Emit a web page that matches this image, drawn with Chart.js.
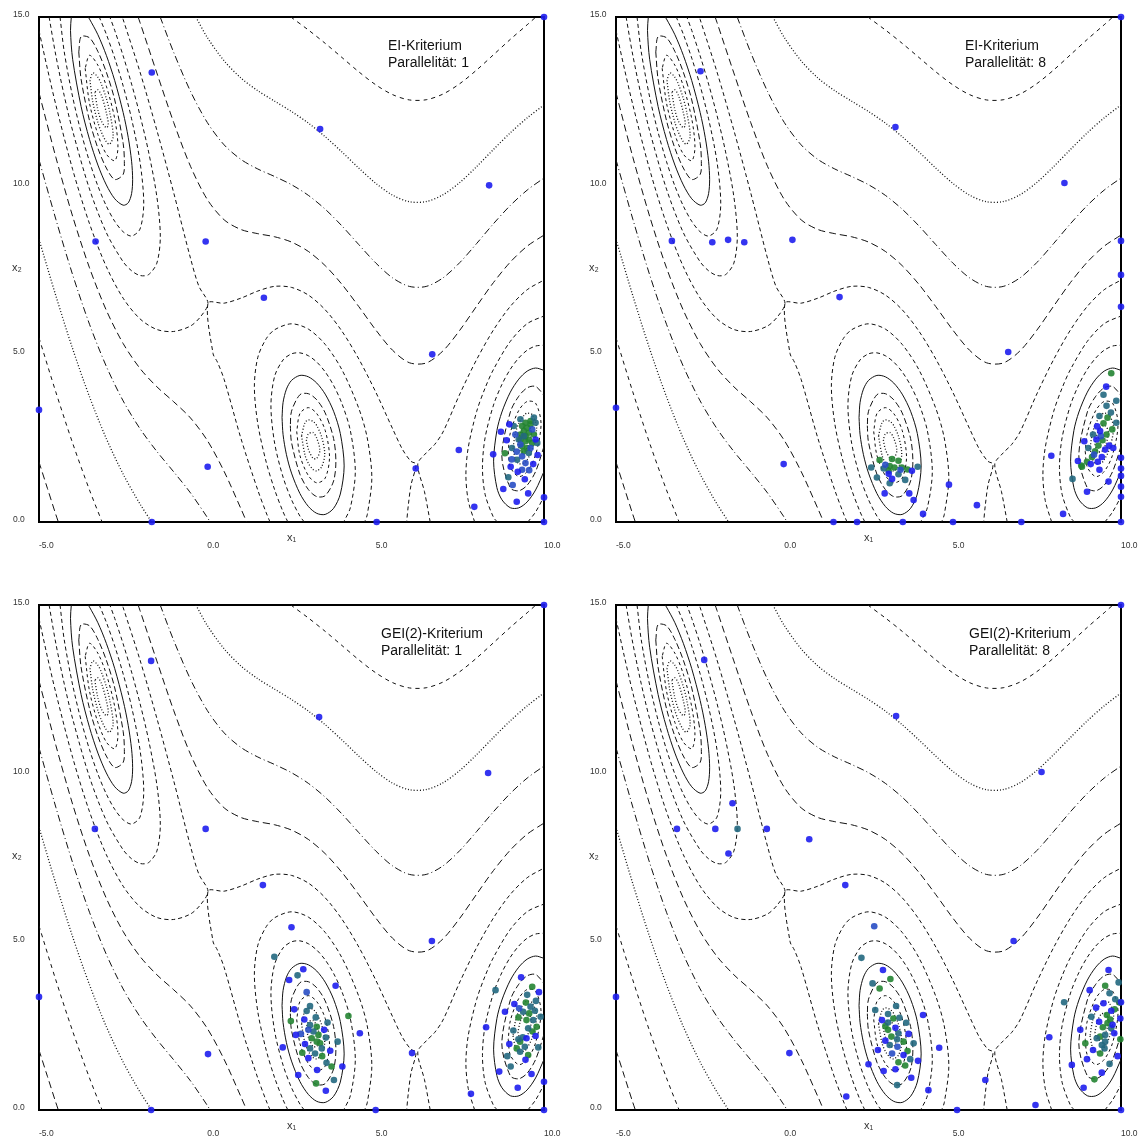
<!DOCTYPE html>
<html>
<head>
<meta charset="utf-8">
<script src="https://cdn.jsdelivr.net/npm/chart.js@4.4.0/dist/chart.umd.min.js"></script>
<style>
html,body{margin:0;padding:0;background:#fff;overflow:hidden;}
.panel{position:absolute;width:569px;height:549px;}
</style>
</head>
<body>
<div class="panel" style="left:0;top:0"><canvas id="p1" width="569" height="549"></canvas></div>
<div class="panel" style="left:577px;top:0"><canvas id="p2" width="569" height="549"></canvas></div>
<div class="panel" style="left:0;top:588px"><canvas id="p3" width="569" height="549"></canvas></div>
<div class="panel" style="left:577px;top:588px"><canvas id="p4" width="569" height="549"></canvas></div>
<script>
/* ---------- axes ---------- */
const xTicks = [-5, 0, 5, 10];
const yTicks = [0, 5, 10, 15];

/* ---------- contour lines (levels of the test function) ---------- */
const levels = [0.544, 0.907, 1.51, 2.52, 4.2, 7.0, 11.66, 19.44, 32.4, 54, 90, 150, 250];

const lv0 = [
  [[-3.343,12.763],[-3.25,12.237],[-3.14,11.893],[-3.0,11.713],[-2.941,11.797],[-3.0,12.161],[-3.14,12.657],[-3.25,12.837],[-3.343,12.763]],
  [[2.941,2.437],[3.0,2.164],[3.14,1.893],[3.25,1.892],[3.343,2.123],[3.25,2.492],[3.14,2.657],[3.0,2.612],[2.941,2.437]],
  [[9.224,2.31],[9.3,2.106],[9.42,2.088],[9.55,2.317],[9.626,2.65],[9.55,2.847],[9.42,2.852],[9.3,2.638],[9.224,2.31]]
];
const lv1 = [
  [[-3.487,13.119],[-3.4,12.468],[-3.25,11.864],[-3.14,11.562],[-3.0,11.294],[-2.9,11.221],[-2.797,11.461],[-2.9,12.181],[-3.0,12.58],[-3.14,12.988],[-3.25,13.21],[-3.4,13.34],[-3.487,13.119]],
  [[2.797,2.559],[2.9,1.991],[3.0,1.745],[3.14,1.562],[3.25,1.519],[3.4,1.646],[3.487,2.021],[3.4,2.518],[3.25,2.865],[3.14,2.988],[3.0,3.031],[2.9,2.951],[2.797,2.559]],
  [[9.08,2.199],[9.15,1.874],[9.25,1.732],[9.42,1.757],[9.5,1.846],[9.65,2.155],[9.78,2.79],[9.65,3.187],[9.5,3.232],[9.42,3.183],[9.25,2.93],[9.15,2.63],[9.08,2.199]]
];
const lv2 = [
  [[-3.629,13.476],[-3.5,12.443],[-3.25,11.509],[-3.0,10.928],[-2.75,10.732],[-2.655,11.135],[-2.75,11.976],[-3.0,12.946],[-3.25,13.565],[-3.5,13.863],[-3.629,13.476]],
  [[2.655,2.685],[2.75,1.978],[3.0,1.379],[3.25,1.164],[3.5,1.302],[3.629,1.926],[3.5,2.722],[3.25,3.22],[3.0,3.397],[2.75,3.222],[2.655,2.685]],
  [[8.938,2.094],[9.0,1.629],[9.25,1.349],[9.5,1.498],[9.75,1.994],[9.912,2.916],[9.75,3.53],[9.5,3.58],[9.25,3.313],[9.0,2.651],[8.938,2.094]]
];
const lv3 = [
  [[-3.818,13.96],[-3.75,13.154],[-3.5,11.924],[-3.25,11.1],[-3.0,10.514],[-2.75,10.173],[-2.5,10.325],[-2.465,10.708],[-2.5,11.247],[-2.75,12.535],[-3.0,13.36],[-3.25,13.974],[-3.5,14.382],[-3.75,14.416],[-3.818,13.96]],
  [[2.465,2.862],[2.5,2.368],[2.75,1.419],[3.0,0.965],[3.25,0.755],[3.5,0.783],[3.75,1.217],[3.818,1.806],[3.75,2.479],[3.5,3.241],[3.25,3.629],[3.0,3.811],[2.75,3.781],[2.5,3.29],[2.465,2.862]],
  [[10,2.244],[9.75,1.498],[9.5,1.093],[9.25,0.927],[9.0,1.014],[8.748,1.963],[9.0,3.266],[9.25,3.735],[9.5,3.985],[9.75,4.026],[10,3.762]]
];
const lv4 = [
  [[-4.04,15],[-4.064,14.601],[-4.0,13.743],[-3.75,12.343],[-3.5,11.366],[-3.25,10.602],[-3.0,10.012],[-2.75,9.6],[-2.5,9.41],[-2.35,9.479],[-2.25,9.753],[-2.219,10.168],[-2.25,10.717],[-2.35,11.427],[-2.5,12.162],[-2.75,13.108],[-3.0,13.862],[-3.25,14.472],[-3.5,14.94],[-3.54,15]],
  [[2.219,3.104],[2.25,2.591],[2.35,1.999],[2.5,1.453],[2.75,0.846],[3.0,0.463],[3.25,0.257],[3.5,0.225],[3.75,0.406],[3.95,0.831],[4.064,1.666],[3.95,2.627],[3.75,3.29],[3.5,3.799],[3.25,4.127],[3.0,4.313],[2.75,4.354],[2.5,4.205],[2.35,3.947],[2.25,3.555],[2.219,3.104]],
  [[10,1.501],[9.75,0.951],[9.5,0.597],[9.25,0.42],[9.0,0.423],[8.75,0.661],[8.6,1.022],[8.503,1.807],[8.6,2.712],[8.75,3.267],[9.0,3.857],[9.25,4.242],[9.5,4.481],[9.75,4.573],[10,4.505]]
];
const lv5 = [
  [[-4.375,15],[-4.25,13.962],[-4.0,12.623],[-3.75,11.576],[-3.5,10.705],[-3.25,9.978],[-3.0,9.386],[-2.75,8.93],[-2.5,8.62],[-2.25,8.494],[-2.0,8.702],[-1.889,9.467],[-2.0,10.698],[-2.25,11.976],[-2.5,12.952],[-2.75,13.778],[-3.0,14.488],[-3.21,15]],
  [[2.88,0],[2.75,0.176],[2.5,0.663],[2.25,1.332],[2.0,2.336],[1.889,3.455],[2.0,4.332],[2.25,4.814],[2.5,4.995],[2.75,5.024],[3.0,4.939],[3.25,4.751],[3.5,4.46],[3.75,4.057],[4.0,3.511],[4.25,2.704],[4.395,1.501],[4.25,0.434],[4.05,0]],
  [[8.617,0],[8.5,0.137],[8.25,0.824],[8.172,1.621],[8.25,2.5],[8.5,3.473],[8.75,4.085],[9.0,4.538],[9.25,4.871],[9.5,5.103],[9.75,5.227],[10,5.252]],
  [[9.52,0],[9.75,0.297],[10,0.754]]
];
const lv6 = [
  [[-4.7,15],[-4.5,13.859],[-4.25,12.658],[-4.0,11.616],[-3.5,9.889],[-3.0,8.595],[-2.5,7.728],[-2.25,7.462],[-2.0,7.322],[-1.75,7.345],[-1.5,7.688],[-1.397,8.476],[-1.5,9.668],[-1.75,11.017],[-2.0,12.078],[-2.25,13.008],[-2.5,13.844],[-2.75,14.6],[-2.895,15]],
  [[2.392,0],[2.25,0.3],[2.0,0.956],[1.75,1.774],[1.5,2.913],[1.397,4.029],[1.5,4.893],[1.75,5.446],[2.0,5.712],[2.5,5.887],[3.0,5.73],[3.5,5.276],[4.0,4.518],[4.5,3.373],[4.75,2.495],[4.886,1.308],[4.75,0.215],[4.671,0]],
  [[7.94,0],[7.75,0.635],[7.68,1.396],[7.75,2.213],[8.0,3.283],[8.25,3.978],[8.5,4.533],[9.0,5.366],[9.5,5.891],[10,6.12]]
];
const lv7 = [
  [[-5,14.595],[-4.75,13.462],[-4.5,12.392],[-4.0,10.469],[-3.5,8.86],[-3.0,7.584],[-2.5,6.647],[-2.0,6.034],[-1.5,5.718],[-1.0,5.659],[-0.5,5.822],[-0.2,6.1],[0.02,6.5],[-0.25,7.0],[-0.5,7.834],[-1.0,9.783],[-1.5,11.638],[-2.0,13.366],[-2.5,14.925],[-2.526,15]],
  [[1.862,0],[1.75,0.271],[1.5,0.943],[1.0,2.476],[0.5,4.231],[0.3,4.75],[0.17,5.0],[0.02,6.5],[0.5,6.5],[1.0,6.65],[1.5,6.86],[2.0,7.0],[2.5,6.968],[3.0,6.741],[3.5,6.305],[4.0,5.665],[4.5,4.84],[5.0,3.864],[5.5,2.777],[5.8,2.15],[6.05,1.8],[6.2,1.72],[6.05,1.1],[5.97,0.5],[5.92,0]],
  [[6.62,0],[6.45,0.9],[6.25,1.72],[6.5,2.05],[6.75,2.3],[7.0,2.673],[7.5,3.802],[8.0,4.827],[8.5,5.706],[9.0,6.405],[9.5,6.899],[10,7.186]]
];
const lv8 = [
  [[-5,12.751],[-4.5,10.836],[-4.0,9.078],[-3.5,7.55],[-3.0,6.288],[-2.5,5.3],[-2.0,4.562],[-1.5,4.017],[-1.0,3.572],[-0.5,3.09],[0,2.422],[0.5,1.499],[1.0,0.389],[1.168,0]],
  [[-2.056,15],[-2.0,14.838],[-1.5,13.339],[-1.0,11.87],[-0.5,10.566],[0,9.578],[0.5,8.975],[1.0,8.687],[1.5,8.564],[2.0,8.472],[2.5,8.315],[3.0,8.037],[3.5,7.615],[4.0,7.056],[4.5,6.396],[5.0,5.708],[5.5,5.103],[6.0,4.731],[6.5,4.722],[7.0,5.083],[7.5,5.697],[8.0,6.413],[8.5,7.114],[9.0,7.721],[9.5,8.193],[10,8.522]]
];
const lv9 = [
  [[-5,10.762],[-4.5,8.994],[-4.0,7.342],[-3.5,5.873],[-3.0,4.622],[-2.5,3.596],[-2.0,2.772],[-1.5,2.096],[-1.0,1.491],[-0.5,0.864],[0,0.135],[0.081,0]],
  [[-1.4,15],[-1.0,13.951],[-0.5,12.792],[0,11.865],[0.5,11.201],[1.0,10.768],[1.5,10.485],[2.0,10.262],[2.5,10.019],[3.0,9.703],[3.5,9.292],[4.0,8.792],[4.5,8.238],[5.0,7.697],[5.5,7.253],[6.0,6.998],[6.5,6.997],[7.0,7.252],[7.5,7.707],[8.0,8.273],[8.5,8.861],[9.0,9.403],[9.5,9.858],[10,10.218]]
];
const lv10 = [
  [[-5,8.396],[-4.5,6.721],[-4.0,5.144],[-3.5,3.72],[-3.0,2.476],[-2.5,1.422],[-2.0,0.535],[-1.654,0]],
  [[-0.34,15],[0,14.39],[0.5,13.697],[1.0,13.187],[1.5,12.809],[2.0,12.499],[2.5,12.193],[3.0,11.849],[3.5,11.445],[4.0,10.99],[4.5,10.511],[5.0,10.063],[5.5,9.71],[6.0,9.514],[6.5,9.517],[7.0,9.719],[7.5,10.086],[8.0,10.557],[8.5,11.067],[9.0,11.561],[9.5,12.003],[10,12.387]]
];
const lv11 = [
  [[-5,5.47],[-4.5,3.86],[-4.0,2.34],[-3.5,0.95],[-3.125,0]],
  [[2.48,15],[3.0,14.615],[3.5,14.218],[4.0,13.796],[4.5,13.371],[5.0,12.988],[5.5,12.695],[6.0,12.537],[6.5,12.542],[7.0,12.711],[7.5,13.021],[8.0,13.426],[8.5,13.879],[9.0,14.336],[9.5,14.769],[9.76,15]]
];
const lv12 = [
  [[-5,1.78],[-4.75,1.0],[-4.5,0.22],[-4.425,0]]
];
const contourPieces = [lv0, lv1, lv2, lv3, lv4, lv5, lv6, lv7, lv8, lv9, lv10, lv11, lv12];

/* ---------- evaluated points, per run, grouped from first (blue) to last (green) ---------- */
// EI, Parallelität 1
const ei1Blue = [[-5,3.33],[-1.65,13.35],[-1.65,0],[-3.32,8.33],[-0.05,8.33],[0.01,1.64],[1.68,6.66],[3.35,11.67],[5.03,0],[6.68,4.98],[8.37,10],[10,15],[10,0.73],[10,0],[6.19,1.59],[7.93,0.45],[7.47,2.14],[8.49,2.01],[8.72,2.68],[8.97,2.9],[8.89,2.43],[8.79,0.98],[9.19,0.6],[9.53,0.85],[9.43,1.27],[9.22,1.49],[9.01,1.64],[9.68,1.72],[9.81,1.99],[9.75,2.45]];
const ei1Mid = [[9.04,1.86],[9.07,1.1],[9.56,1.54],[9.3,2.3],[9.6,2.2],[9.45,1.75],[9.15,2.6],[9.65,2.75],[9.35,1.55],[9.19,2.09],[9.35,1.95]];
const ei1Teal = [[8.94,1.33],[9.1,2.85],[9.3,3.05],[9.75,2.95],[9.8,2.35],[9.2,1.85],[9.05,2.2],[9.55,2.05],[9.4,2.55],[9.25,2.45],[9.7,3.1]];
const ei1Green = [[8.84,2.04],[9.35,2.85],[9.45,2.95],[9.6,3.0],[9.3,2.6],[9.45,2.4],[9.55,2.65],[9.7,2.6],[9.4,2.7],[9.5,2.8],[9.35,2.25],[9.5,2.2],[9.65,2.35],[9.4,2.1],[9.55,2.45],[9.6,2.9],[9.3,2.45],[9.45,2.55]];

// EI, Parallelität 8
const ei8Blue = [[-5,3.39],[-2.49,13.39],[-3.34,8.35],[-2.14,8.31],[-1.67,8.38],[-1.19,8.31],[0.24,8.38],[1.64,6.68],[3.3,11.73],[-0.02,1.72],[8.32,10.07],[6.65,5.05],[10,15],[10,8.35],[10,7.34],[10,6.39],[1.46,0],[2.16,0],[3.52,0],[5.01,0],[7.04,0],[10,0],[4.12,0.24],[4.89,1.11],[5.72,0.5],[8.28,0.24],[7.93,1.97],[10,1.91],[10,1.59],[10,1.37],[10,1.05],[10,0.75],[8.99,0.9],[9.63,1.2],[8.72,1.81],[9.56,4.02],[9.29,2.84],[9.38,2.7],[9.27,2.45],[8.91,2.4],[9.65,2.27],[9.77,2.2],[9.53,2.15],[9.43,1.93],[9.31,1.79],[9.1,1.72],[9.36,1.55],[3.79,1.52],[3.2,1.28],[3.1,1.43],[2.98,0.85],[3.71,0.85],[3.84,0.65]];
const ei8Mid = [[9.4,2.55],[9.2,2.0],[3.0,1.7],[3.45,1.55]];
const ei8Teal = [[8.56,1.28],[9.48,3.78],[9.86,3.6],[9.57,3.45],[9.7,3.25],[9.36,3.15],[9.86,2.95],[9.17,2.6],[9.03,2.2],[2.58,1.62],[2.95,1.59],[3.96,1.64],[2.75,1.32],[3.39,1.42],[3.59,1.25],[3.13,1.15]];
const ei8Green = [[9.71,4.42],[8.84,1.64],[8.99,1.79],[9.6,3.1],[9.48,2.93],[9.74,2.75],[9.57,2.6],[9.45,2.43],[9.33,2.27],[9.23,2.1],[9.14,1.93],[8.82,1.68],[2.83,1.84],[3.2,1.87],[3.39,1.82],[3.13,1.66],[3.27,1.62],[3.49,1.62],[3.66,1.56],[3.1,1.52]];

// GEI(2), Parallelität 1
const gei1Blue = [[-5,3.36],[-1.67,13.34],[-1.67,0],[-3.34,8.35],[-0.05,8.35],[0.02,1.66],[1.65,6.68],[3.32,11.67],[5.0,0],[6.08,1.69],[6.67,5.02],[8.34,10.01],[10,15],[10,0],[10,0.84],[7.83,0.48],[2.5,5.43],[2.85,4.18],[2.43,3.86],[3.81,3.69],[2.58,2.99],[2.88,2.69],[4.53,2.28],[3.47,2.38],[2.63,2.23],[2.9,1.96],[2.24,1.86],[3.65,1.76],[3.0,1.54],[4.01,1.29],[3.26,1.19],[2.7,1.04],[3.52,0.57],[9.32,3.94],[9.85,3.5],[9.12,3.15],[8.84,2.92],[8.28,2.46],[9.48,2.13],[9.75,2.2],[8.97,1.96],[9.45,1.49],[8.67,1.14],[9.63,1.07],[9.22,0.66]];
const gei1Mid = [[2.95,3.5],[3.0,2.38],[2.78,2.26],[9.26,3.02]];
const gei1Teal = [[1.99,4.55],[2.68,4.0],[3.05,3.09],[2.95,2.94],[3.22,2.75],[3.57,2.6],[3.05,2.52],[3.15,2.33],[3.52,2.15],[3.87,2.03],[3.05,1.83],[3.4,1.83],[3.2,1.68],[3.54,1.4],[3.76,0.89],[8.56,3.56],[9.5,3.42],[9.76,3.24],[9.6,3.07],[9.38,2.92],[9.73,2.95],[9.9,2.77],[9.68,2.67],[9.09,2.36],[9.53,2.43],[9.37,2.16],[9.24,2.1],[9.43,1.88],[9.83,1.86],[9.29,1.73],[8.91,1.6],[9.01,1.29]];
const gei1Green = [[2.48,2.64],[4.19,2.79],[3.25,2.47],[3.3,2.23],[3.1,2.13],[3.25,2.03],[3.35,1.98],[2.82,1.7],[3.41,1.6],[3.69,1.29],[3.23,0.79],[9.65,3.66],[9.46,3.19],[9.56,2.87],[9.24,2.75],[9.48,2.67],[9.78,2.47],[9.66,2.33],[9.29,2.03],[9.19,1.83],[9.53,1.63]];

// GEI(2), Parallelität 8
const gei8Blue = [[-5,3.36],[-2.38,13.37],[10,15],[3.32,11.7],[7.64,10.04],[6.81,5.02],[0.15,1.69],[5.13,0],[7.46,0.15],[5.97,0.89],[10,0],[-1.54,9.11],[-3.19,8.35],[-2.05,8.35],[-0.52,8.35],[0.74,8.04],[-1.66,7.62],[1.81,6.68],[2.93,4.16],[4.12,2.82],[2.9,2.67],[3.3,2.44],[3.69,2.26],[3.0,2.06],[4.6,1.85],[2.78,1.78],[3.54,1.63],[3.97,1.46],[2.5,1.36],[2.95,1.16],[3.3,1.21],[3.77,0.96],[4.28,0.59],[1.84,0.4],[9.63,4.16],[9.07,3.56],[10,3.2],[9.48,3.17],[9.26,3.04],[9.71,2.95],[9.98,2.72],[9.35,2.62],[9.75,2.53],[8.79,2.38],[9.8,2.28],[9.17,1.78],[9.9,1.6],[8.99,1.51],[8.54,1.34],[9.43,1.11],[8.89,0.66],[7.87,2.16]];
const gei8Mid = [[2.67,5.46],[3.36,1.88],[3.2,1.68]];
const gei8Teal = [[-1.39,8.35],[2.29,4.52],[2.62,3.76],[3.32,3.09],[2.7,2.97],[3.08,2.85],[3.42,2.74],[3.08,2.6],[3.62,2.59],[3.39,2.28],[3.35,2.1],[3.84,1.98],[3.13,1.93],[3.74,1.51],[3.35,0.74],[9.93,3.79],[9.66,3.47],[8.31,3.2],[9.83,3.29],[9.12,2.77],[9.71,2.43],[9.53,2.23],[9.28,2.13],[9.43,1.93],[9.53,2.03],[9.51,1.83],[9.66,1.37]];
const gei8Green = [[3.15,3.89],[2.83,3.61],[3.24,2.72],[3.0,2.49],[3.08,2.38],[3.18,2.18],[3.54,2.03],[3.66,1.75],[3.39,1.42],[3.59,1.32],[9.53,3.69],[9.96,3.19],[9.81,2.99],[9.58,2.82],[9.68,2.69],[9.6,2.58],[9.46,2.46],[9.38,2.18],[9.98,2.1],[8.94,1.98],[9.38,1.68],[9.21,0.91]];

/* ---------- styles ---------- */
const levelDash = [[1,2],[1,2],[3,3],[6,3],[],[4,3],[4,3],[4,3],[7,4],[7,3,1,3],[1,2],[4,4],[7,4]];
const groupColors = ['rgba(30,30,238,0.9)','rgba(40,78,196,0.9)','rgba(34,104,128,0.9)','rgba(36,132,50,0.9)'];

Chart.defaults.font.family = "'Liberation Sans', Arial, 'DejaVu Sans', sans-serif";

const toXY = arr => arr.map(p => ({x: p[0], y: p[1]}));

// frame + annotation text + horizontal x2 label
const deco = {
  id: 'deco',
  beforeDatasetsDraw(chart){
    const {ctx, chartArea: a} = chart;
    ctx.save();
    ctx.strokeStyle = '#000'; ctx.lineWidth = 2;
    ctx.strokeRect(a.left, a.top, a.right - a.left, a.bottom - a.top);
    ctx.restore();
  },
  afterDraw(chart, args, o){
    const ctx = chart.ctx;
    ctx.save();
    ctx.fillStyle = '#111';
    ctx.font = "14px 'Liberation Sans', Arial, sans-serif";
    ctx.textBaseline = 'alphabetic';
    ctx.fillText(o.title, o.tx, 50);
    ctx.fillText(o.sub, o.tx, 67);
    ctx.fillStyle = '#333';
    ctx.font = "11px 'Liberation Sans', 'DejaVu Sans', sans-serif";
    ctx.fillText('x₂', 12, 271);
    ctx.restore();
  }
};

function makePanel(id, groups, title, sub, tx){
  const datasets = [];
  groups.forEach((g, i) => {
    datasets.push({
      data: toXY(g), showLine: false, pointRadius: 3.3, pointHoverRadius: 3.3,
      pointBackgroundColor: groupColors[i], pointBorderWidth: 0, clip: false, order: 0
    });
  });
  contourPieces.forEach((pieces, li) => {
    const dotted = levelDash[li].length === 2 && levelDash[li][0] === 1;
    pieces.forEach(piece => {
      datasets.push({
        data: toXY(piece), showLine: true, pointRadius: 0, borderColor: '#111',
        borderWidth: dotted ? 1.3 : 1, borderDash: levelDash[li], tension: 0.3, fill: false, order: 1
      });
    });
  });
  new Chart(document.getElementById(id), {
    type: 'scatter',
    data: {datasets},
    options: {
      responsive: false, animation: false, devicePixelRatio: 1,
      layout: {padding: {left: 13, top: 17, right: 25, bottom: 0}},
      plugins: {legend: {display: false}, tooltip: {enabled: false}, deco: {title, sub, tx}},
      scales: {
        x: {
          type: 'linear', min: -5, max: 10,
          grid: {display: false, drawTicks: false}, border: {display: false},
          afterBuildTicks: s => { s.ticks = xTicks.map(v => ({value: v})); },
          ticks: {align: 'start', padding: 19, maxRotation: 0, autoSkip: false, color: '#333',
                  font: {size: 8.5}, callback: v => Number(v).toFixed(1)},
          title: {display: true, text: 'x₁', color: '#333', font: {size: 11}, padding: {top: 0, bottom: 4}},
          afterFit: s => { s.height = 27; s.paddingLeft = 0; s.paddingRight = 0; }
        },
        y: {
          type: 'linear', min: 0, max: 15,
          grid: {display: false, drawTicks: false}, border: {display: false},
          afterBuildTicks: s => { s.ticks = yTicks.map(v => ({value: v})); },
          ticks: {crossAlign: 'far', labelOffset: -2, color: '#333', font: {size: 8.5},
                  callback: v => Number(v).toFixed(1)},
          afterFit: s => { s.width = 26; s.paddingTop = 0; s.paddingBottom = 0; }
        }
      }
    },
    plugins: [deco]
  });
}

makePanel('p1', [ei1Blue, ei1Mid, ei1Teal, ei1Green], 'EI-Kriterium', 'Parallelität: 1', 388);
makePanel('p2', [ei8Blue, ei8Mid, ei8Teal, ei8Green], 'EI-Kriterium', 'Parallelität: 8', 388);
makePanel('p3', [gei1Blue, gei1Mid, gei1Teal, gei1Green], 'GEI(2)-Kriterium', 'Parallelität: 1', 381);
makePanel('p4', [gei8Blue, gei8Mid, gei8Teal, gei8Green], 'GEI(2)-Kriterium', 'Parallelität: 8', 392);
</script>
</body>
</html>
